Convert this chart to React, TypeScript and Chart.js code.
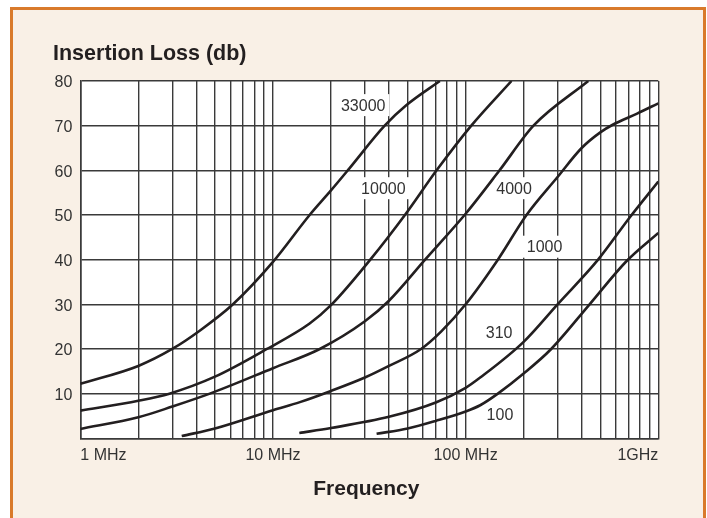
import { useEffect, useRef } from 'react';
import { Chart, registerables } from 'chart.js';

Chart.register(...registerables);

const FONT = "'Liberation Sans', Arial, Helvetica, sans-serif";

// Curve data: frequency in MHz, insertion loss in dB
const freq33000 = [1, 2, 3, 4.2, 6.2, 10, 15.5, 20, 25, 38, 49, 73.5];
const loss33000 = [12.2, 16.2, 20, 24.2, 30, 39.5, 50, 55.5, 60.5, 70, 74.5, 80];

const freq10000 = [1, 2, 2.9, 5, 9.3, 15.5, 20, 32, 48.4, 70.7, 107, 173];
const loss10000 = [6.2, 8.4, 10, 13.8, 20, 25.7, 29.8, 40, 50, 60, 70, 80];

const freq4000 = [1, 2, 3, 4.7, 10, 17.5, 30, 40, 61.6, 101, 150, 225, 433];
const loss4000 = [2.1, 4.7, 7.1, 10, 15.7, 20, 26.2, 30.8, 40, 50.5, 60, 70, 80];

const freq1000 = [3.36, 5, 10, 13.8, 20, 30, 40, 58.7, 75, 100, 147, 207, 300, 400, 500, 580, 776, 1000];
const loss1000 = [0.5, 2.2, 6.3, 8.1, 10.6, 13.6, 16.2, 20, 24, 30, 40, 50, 58.5, 65, 68.5, 70.2, 72.7, 75];

const freq310 = [13.7, 20, 40, 70, 100, 119, 200, 300, 487, 712, 1000];
const loss310 = [1.2, 2.3, 4.8, 8, 11.3, 13.6, 21.6, 30, 40, 49.5, 57.5];

const freq100 = [34.5, 50, 70, 100, 119, 147, 200, 278, 440, 685, 1000];
const loss100 = [1, 2.2, 3.9, 6.0, 7.4, 10, 14.5, 20, 30, 39.7, 46];

// Curve labels (text, position in data units)
const curveLabels = ['33000', '10000', '4000', '1000', '310', '100'];
const curveLabelFreq = [29.4, 37.4, 178.5, 257, 149.2, 150.7];
const curveLabelLoss = [74.6, 56, 56, 42.9, 23.6, 5.2];

// Axes
const xGridValues = [
  1, 2, 3, 4, 5, 6, 7, 8, 9,
  10, 20, 30, 40, 50, 60, 70, 80, 90,
  100, 200, 300, 400, 500, 600, 700, 800, 900,
  1000,
];
const xLabelValues = [1, 10, 100, 1000];
const xLabelTexts = ['1 MHz', '10 MHz', '100 MHz', '1GHz'];
const yMin = 0;
const yMax = 80;
const yStep = 10;

const titleText = 'Insertion Loss (db)';
const xTitleText = 'Frequency';

const LINE = '#231f20';
const GRID = '#3a3a3a';

function pts(f: number[], l: number[]) {
  return f.map((x, i) => ({ x, y: l[i] }));
}

const decorPlugin = {
  id: 'decor',
  beforeDraw(chart: any) {
    const { ctx, chartArea: a } = chart;
    ctx.save();
    ctx.fillStyle = '#ffffff';
    ctx.fillRect(a.left, a.top, a.right - a.left, a.bottom - a.top);
    ctx.restore();
  },
  beforeDatasetsDraw(chart: any) {
    const { ctx } = chart;
    const xs = chart.scales.x;
    const ys = chart.scales.y;
    ctx.save();
    ctx.font = `16px ${FONT}`;
    ctx.textAlign = 'center';
    ctx.textBaseline = 'middle';
    curveLabels.forEach((t, i) => {
      const px = xs.getPixelForValue(curveLabelFreq[i]);
      const py = ys.getPixelForValue(curveLabelLoss[i]);
      const w = ctx.measureText(t).width + 8;
      const h = 22;
      ctx.fillStyle = '#ffffff';
      ctx.fillRect(px - w / 2, py - h / 2, w, h);
      ctx.fillStyle = '#333333';
      ctx.fillText(t, px, py + 1);
    });
    ctx.restore();
  },
  afterDraw(chart: any) {
    const { ctx, chartArea: a } = chart;
    ctx.save();
    ctx.fillStyle = '#231f20';
    ctx.font = `bold 21.5px ${FONT}`;
    ctx.textBaseline = 'alphabetic';
    ctx.textAlign = 'left';
    ctx.fillText(titleText, 53, 59.5);
    ctx.font = `bold 21px ${FONT}`;
    ctx.textAlign = 'center';
    ctx.fillText(xTitleText, (a.left + a.right) / 2 - 3, 495);
    ctx.restore();
  },
};

export default function App() {
  const ref = useRef<HTMLCanvasElement | null>(null);

  useEffect(() => {
    if (!ref.current) return;
    const mk = (label: string, f: number[], l: number[]) => ({
      label,
      data: pts(f, l),
      borderColor: LINE,
      borderWidth: 2.6,
      pointRadius: 0,
      fill: false,
      cubicInterpolationMode: 'monotone' as const,
    });
    const chart = new Chart(ref.current, {
      type: 'line',
      data: {
        datasets: [
          mk('33000', freq33000, loss33000),
          mk('10000', freq10000, loss10000),
          mk('4000', freq4000, loss4000),
          mk('1000', freq1000, loss1000),
          mk('310', freq310, loss310),
          mk('100', freq100, loss100),
        ],
      },
      options: {
        animation: false,
        responsive: false,
        maintainAspectRatio: false,
        devicePixelRatio: 1,
        layout: { padding: { left: 50.3, top: 81, right: 48.7, bottom: 39.7 } },
        plugins: {
          legend: { display: false },
          tooltip: { enabled: false },
          title: { display: false },
        },
        scales: {
          x: {
            type: 'logarithmic',
            min: 1,
            max: 1000,
            afterBuildTicks: (axis: any) => {
              axis.ticks = xGridValues.map((v) => ({ value: v }));
            },
            afterFit: (scale: any) => {
              scale.height = 40;
            },
            grid: { color: GRID, lineWidth: 1.4, drawTicks: false },
            border: { display: true, color: GRID, width: 1.6 },
            ticks: {
              autoSkip: false,
              maxRotation: 0,
              minRotation: 0,
              align: 'inner',
              padding: 8,
              color: '#333333',
              font: { family: FONT, size: 16 },
              callback: (value: any) => {
                const i = xLabelValues.indexOf(Number(value));
                return i >= 0 ? xLabelTexts[i] : '';
              },
            },
          },
          y: {
            type: 'linear',
            min: yMin,
            max: yMax,
            afterFit: (scale: any) => {
              scale.width = 30;
            },
            grid: { color: GRID, lineWidth: 1.4, drawTicks: false },
            border: { display: true, color: GRID, width: 1.6 },
            ticks: {
              stepSize: yStep,
              padding: 8,
              labelOffset: 2,
              color: '#333333',
              font: { family: FONT, size: 16 },
              callback: (value: any) => (Number(value) === 0 ? '' : String(value)),
            },
          },
        },
      },
      plugins: [decorPlugin],
    } as any);
    return () => chart.destroy();
  }, []);

  return (
    <div style={{ position: 'absolute', left: 0, top: 0, width: 707, height: 518, overflow: 'hidden', background: '#ffffff' }}>
      <div
        style={{
          position: 'absolute',
          left: 10,
          top: 7,
          width: 696,
          height: 530,
          boxSizing: 'border-box',
          border: '3px solid #D97A2B',
          background: '#F9F0E6',
        }}
      />
      <canvas
        ref={ref}
        width={707}
        height={518}
        style={{ position: 'absolute', left: 0, top: 0, width: 707, height: 518 }}
      />
    </div>
  );
}
